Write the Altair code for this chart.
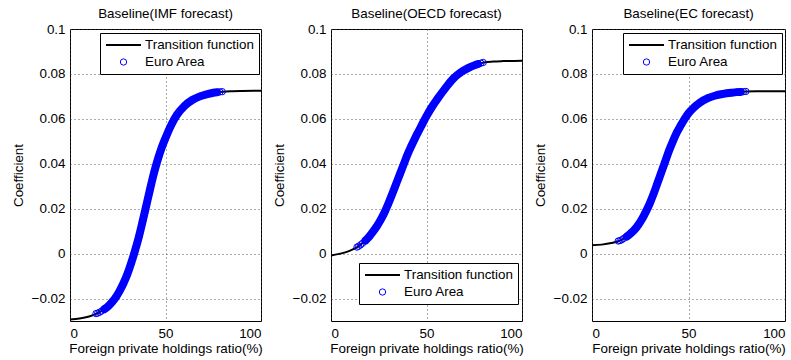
import altair as alt
import pandas as pd

SERIES = ["Transition function", "Euro Area"]
TITLES = ["Baseline(IMF forecast)", "Baseline(OECD forecast)", "Baseline(EC forecast)"]
X_TICKS = [0, 50, 100]
Y_TICKS = [-0.02, 0, 0.02, 0.04, 0.06, 0.08, 0.1]
X_TITLE = "Foreign private holdings ratio(%)"
Y_TITLE = "Coefficient"

# transition-function curve
curve_x = [0, 5, 10, 15, 20, 25, 30, 35, 37.5, 40, 42.5, 45, 50, 55, 60, 65, 70, 75, 80, 85, 90, 100]
imf_curve = [-0.0293, -0.0289, -0.0280, -0.0263, -0.0234, -0.0182, -0.0092, 0.0040, 0.0125, 0.0216,
             0.0308, 0.0395, 0.0515, 0.0605, 0.0658, 0.0688, 0.0706, 0.0716, 0.0721, 0.0723, 0.0724, 0.0725]
oecd_curve = [-0.0008, 0.0000, 0.0013, 0.0036, 0.0076, 0.0135, 0.0222, 0.0330, 0.0385, 0.0440,
              0.0487, 0.0530, 0.0612, 0.0680, 0.0738, 0.0788, 0.0818, 0.0838, 0.0851, 0.0855, 0.0857, 0.0859]
ec_curve = [0.0037, 0.0040, 0.0047, 0.0060, 0.0090, 0.0140, 0.0225, 0.0340, 0.0400, 0.0460,
            0.0510, 0.0556, 0.0625, 0.0668, 0.0692, 0.0706, 0.0714, 0.0719, 0.0722, 0.0723, 0.0723, 0.0723]

# Euro Area observations
pts_x = [13.6, 14.5, 15.5, 16.5, 18, 20, 22, 24, 26, 28, 30, 32, 34, 36, 38, 40, 42, 44, 46, 48, 50,
         53, 56, 60, 64, 68, 72, 75, 77, 78.5, 79.7]
imf_pts = [-0.0267, -0.0265, -0.0261, -0.0256, -0.0247, -0.0234, -0.0216, -0.0194, -0.0166, -0.0132,
           -0.0092, -0.0043, 0.0012, 0.0073, 0.0143, 0.0216, 0.0290, 0.0360, 0.0420, 0.0472, 0.0515,
           0.0573, 0.0618, 0.0658, 0.0684, 0.0700, 0.0710, 0.0716, 0.0718, 0.0720, 0.0721]
oecd_pts = [0.0029, 0.0033, 0.0039, 0.0046, 0.0058, 0.0076, 0.0098, 0.0122, 0.0150, 0.0183,
            0.0222, 0.0264, 0.0308, 0.0352, 0.0396, 0.0440, 0.0478, 0.0514, 0.0547, 0.0580, 0.0612,
            0.0655, 0.0692, 0.0738, 0.0779, 0.0807, 0.0827, 0.0838, 0.0844, 0.0848, 0.0851]
ec_pts = [0.0056, 0.0058, 0.0062, 0.0068, 0.0076, 0.0090, 0.0106, 0.0128, 0.0155, 0.0188,
          0.0225, 0.0268, 0.0316, 0.0364, 0.0412, 0.0460, 0.0502, 0.0540, 0.0571, 0.0600, 0.0625,
          0.0652, 0.0673, 0.0692, 0.0704, 0.0711, 0.0716, 0.0719, 0.0720, 0.0721, 0.0722]

CURVES = [imf_curve, oecd_curve, ec_curve]
POINTS = [imf_pts, oecd_pts, ec_pts]
WIDTHS = [191, 191, 193]
LEG_POS = [(30, 4), (28, 234), (31, 4)]

FONT = "Liberation Sans"
FS = 13.4


def panel(i):
    df_curve = pd.DataFrame({"x": curve_x, "y": CURVES[i], "s": SERIES[0]})
    df_pts = pd.DataFrame({"x": pts_x, "y": POINTS[i], "s": SERIES[1]})
    lx, ly = LEG_POS[i]
    leg = alt.Legend(orient="none", legendX=lx, legendY=ly)
    xenc = alt.X("x:Q", scale=alt.Scale(domain=[0, 100], nice=False, zero=False),
                 axis=alt.Axis(values=X_TICKS, title=X_TITLE))
    yenc = alt.Y("y:Q", scale=alt.Scale(domain=[-0.03, 0.1], nice=False, zero=False),
                 axis=alt.Axis(values=Y_TICKS, format="~g", title=Y_TITLE))
    color = alt.Color("s:N", title=None,
                      scale=alt.Scale(domain=SERIES, range=["#000000", "#0000ff"]), legend=leg)
    sw = alt.StrokeWidth("s:N", title=None,
                         scale=alt.Scale(type="ordinal", domain=SERIES, range=[2, 1]), legend=leg)
    shape = alt.Shape("s:N", title=None,
                      scale=alt.Scale(domain=SERIES, range=["stroke", "circle"]), legend=leg)
    size = alt.Size("s:N", title=None,
                    scale=alt.Scale(type="ordinal", domain=SERIES, range=[1225, 40]), legend=leg)

    line = alt.Chart(df_curve).mark_line(interpolate="monotone").encode(
        x=xenc, y=yenc, color=color, strokeWidth=sw)
    band = alt.Chart(df_pts).transform_filter(
        (alt.datum.x >= 17.5) & (alt.datum.x <= 78)
    ).mark_line(color="#0000ff", strokeWidth=8, strokeCap="round",
                interpolate="monotone").encode(x=xenc, y=yenc)
    pts = alt.Chart(df_pts).mark_point(filled=False, opacity=1).encode(
        x=xenc, y=yenc, color=color, strokeWidth=sw, shape=shape, size=size)
    return alt.layer(line, band, pts).properties(
        width=WIDTHS[i], height=292,
        title=alt.TitleParams(TITLES[i], fontSize=FS, font=FONT, fontWeight="normal",
                              color="black", offset=2))


chart = alt.hconcat(panel(0), panel(1), panel(2), spacing=70, bounds="flush").resolve_scale(
    color="independent", shape="independent", size="independent", strokeWidth="independent"
).properties(
    padding={"left": 10, "top": 6, "right": 0, "bottom": 0}
).configure_view(
    stroke="black", strokeWidth=1
).configure_axis(
    domain=False, ticks=False, grid=True, gridColor="#444444", gridDash=[1, 3], gridOpacity=0.9,
    labelFont=FONT, labelFontSize=FS, labelColor="black", labelPadding=5,
    titleFont=FONT, titleFontSize=FS, titleColor="black", titleFontWeight="normal"
).configure_axisY(
    titlePadding=6
).configure_axisX(
    titlePadding=2
).configure_legend(
    labelFont=FONT, labelFontSize=FS, labelColor="black", padding=5,
    strokeColor="black", fillColor="white", cornerRadius=0,
    clipHeight=14, rowPadding=3, labelOffset=3, symbolOffset=0
)

chart.save("out.html", embed_options={"renderer": "svg", "actions": False})
